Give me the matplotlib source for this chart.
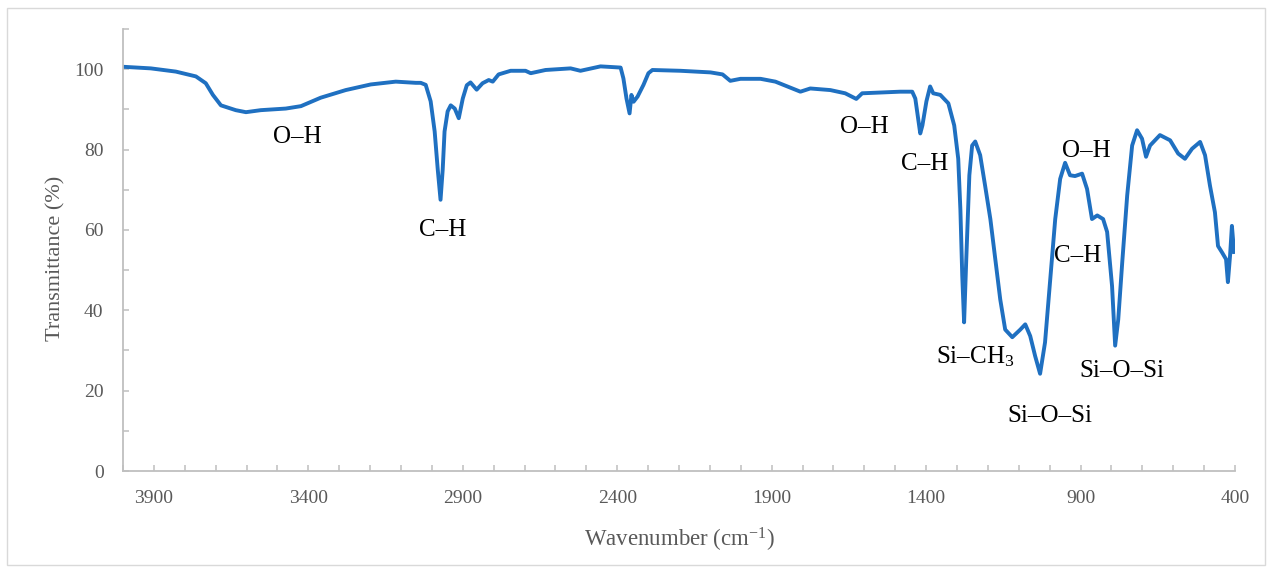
import matplotlib
matplotlib.use('Agg')
import matplotlib.pyplot as plt
from matplotlib.patches import Rectangle
from matplotlib.ticker import MultipleLocator

# FTIR spectrum (wavenumber in cm-1, transmittance in %)
wavenumber = [4000, 3910, 3829, 3764, 3732, 3709, 3683, 3635, 3602, 3554,
              3473, 3424, 3360, 3279, 3198, 3117, 3052, 3036, 3020, 3004,
              2991, 2981, 2972, 2965, 2959, 2949, 2939, 2926, 2913, 2900,
              2887, 2875, 2855, 2836, 2816, 2803, 2784, 2745, 2697, 2680,
              2632, 2551, 2519, 2454, 2389, 2380, 2370, 2360, 2354, 2347,
              2334, 2315, 2299, 2286, 2195, 2098, 2059, 2034, 2001, 1936,
              1888, 1807, 1775, 1710, 1662, 1626, 1607, 1548, 1484, 1445,
              1435, 1419, 1412, 1399, 1387, 1377, 1354, 1328, 1309, 1296,
              1289, 1283, 1277, 1270, 1260, 1251, 1241, 1225, 1209, 1192,
              1176, 1160, 1144, 1121, 1095, 1079, 1063, 1047, 1031, 1015,
              998, 982, 966, 950, 934, 918, 895, 879, 863, 846,
              827, 814, 798, 788, 778, 765, 749, 733, 717, 701,
              688, 675, 643, 610, 584, 562, 539, 513, 497, 481,
              465, 455, 442, 429, 423, 416, 410, 403]
transmittance = [100.6, 100.2, 99.4, 98.2, 96.5, 93.6, 91.0, 89.8, 89.3, 89.8,
                 90.2, 90.8, 92.9, 94.8, 96.2, 96.9, 96.6, 96.6, 96.1, 92.0,
                 84.5, 75.0, 67.5, 75.0, 84.5, 89.5, 91.0, 90.2, 87.8, 92.7,
                 96.0, 96.7, 94.9, 96.5, 97.3, 96.9, 98.7, 99.6, 99.6, 99.0,
                 99.8, 100.2, 99.6, 100.7, 100.4, 97.7, 92.7, 89.0, 93.6, 91.9,
                 93.2, 96.1, 99.0, 99.8, 99.6, 99.2, 98.7, 97.1, 97.6, 97.6,
                 96.9, 94.4, 95.2, 94.8, 94.0, 92.6, 94.0, 94.2, 94.4, 94.4,
                 92.7, 84.0, 86.0, 92.0, 95.7, 94.0, 93.6, 91.5, 86.0, 77.7,
                 65.0, 48.6, 37.0, 52.7, 73.6, 81.0, 82.0, 78.6, 71.0, 62.7,
                 52.7, 42.7, 35.2, 33.3, 35.2, 36.5, 33.6, 28.6, 24.2, 32.0,
                 47.7, 62.7, 72.7, 76.7, 73.6, 73.4, 74.0, 70.2, 62.7, 63.6,
                 62.7, 59.5, 46.0, 31.2, 37.7, 52.0, 68.6, 81.0, 84.8, 82.7,
                 78.2, 81.0, 83.6, 82.3, 79.0, 77.7, 80.2, 81.9, 78.6, 71.0,
                 64.4, 56.0, 54.4, 52.7, 47.0, 53.6, 61.0, 54.5]

# band labels: text, wavenumber, transmittance (centre of text)
band_labels = ['O\u2013H', 'C\u2013H', 'O\u2013H', 'C\u2013H', 'Si\u2013CH$_3$',
               'Si\u2013O\u2013Si', 'O\u2013H', 'C\u2013H', 'Si\u2013O\u2013Si']
label_wn = [3437, 2965, 1600, 1403, 1241, 998, 882, 908, 766]
label_t = [83.0, 60.0, 85.7, 76.5, 28.5, 13.7, 79.7, 53.5, 25.0]

x_ticks = [3900, 3400, 2900, 2400, 1900, 1400, 900, 400]

plt.rcParams['font.family'] = ['Liberation Serif', 'DejaVu Serif']
plt.rcParams['mathtext.fontset'] = 'custom'
plt.rcParams['mathtext.rm'] = 'Liberation Serif'
plt.rcParams['mathtext.it'] = 'Liberation Serif:italic'
plt.rcParams['mathtext.bf'] = 'Liberation Serif:bold'
plt.rcParams['mathtext.default'] = 'rm'

fig = plt.figure(figsize=(12.73, 5.73), dpi=100)
ax = fig.add_axes([123 / 1273, 1 - 471 / 573, 1112 / 1273, 442 / 573])

# light outer frame
fig.patches.append(Rectangle((7 / 1273, 8 / 573), 1258 / 1273, 557 / 573,
                             transform=fig.transFigure, fill=False,
                             edgecolor='#d9d9d9', linewidth=1.0))

ax.plot(wavenumber, transmittance, color='#1f70c1', linewidth=2.8,
        solid_joinstyle='round')

for text, wn, t in zip(band_labels, label_wn, label_t):
    ax.text(wn, t, text, ha='center', va='center', fontsize=18, color='black')

ax.set_xlim(4000, 400)
ax.set_ylim(0, 110)
ax.set_xticks(x_ticks)
ax.xaxis.set_minor_locator(MultipleLocator(100))
ax.set_yticks(range(0, 101, 20))
ax.yaxis.set_minor_locator(MultipleLocator(10))

for side in ['top', 'right']:
    ax.spines[side].set_visible(False)
for side in ['left', 'bottom']:
    ax.spines[side].set_color('#bfbfbf')
    ax.spines[side].set_linewidth(1.3)

ax.tick_params(which='both', direction='in', color='#bfbfbf', width=1.1,
               length=4.5, labelcolor='#595959', labelsize=14)
ax.tick_params(axis='x', which='both', pad=14)
ax.tick_params(axis='y', which='both', pad=14)

ax.set_xlabel('Wavenumber (cm$^{-1}$)', fontsize=16.5, color='#595959')
ax.set_ylabel('Transmittance (%)', fontsize=16, color='#595959')
ax.xaxis.set_label_coords(0.5, -0.125)
ax.yaxis.set_label_coords(-0.052, 0.48)

fig.savefig('out.png', dpi=100)
